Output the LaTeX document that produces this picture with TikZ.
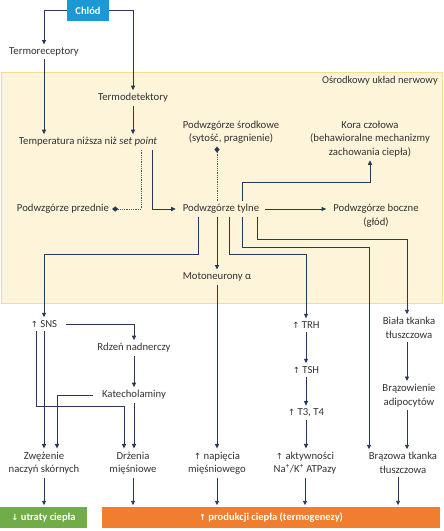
\documentclass[tikz,border=0pt]{standalone}
\usepackage{fontspec}
\setmainfont{Carlito}
\newfontfamily\symf{DejaVu Sans}
\usetikzlibrary{arrows.meta,calc}
\definecolor{lineC}{RGB}{38,58,88}
\definecolor{txtC}{RGB}{50,50,50}
\definecolor{chlodC}{RGB}{28,152,212}
\definecolor{cnsFill}{RGB}{253,244,218}
\definecolor{cnsDraw}{RGB}{244,222,140}
\definecolor{greenC}{RGB}{112,173,71}
\definecolor{orangeC}{RGB}{241,125,46}
\definecolor{dotC}{RGB}{90,90,90}
\newcommand\upar{{\symf\fontsize{8.5}{10}\selectfont\char"2191}}
\newcommand\downar{{\symf\fontsize{8.5}{10}\selectfont\char"2193}}
\begin{document}
\begin{tikzpicture}[x=1pt,y=-1pt,
  lbl/.style={text=txtC, font=\fontsize{10.7}{13.5}\selectfont, inner sep=3pt, align=center},
  arr/.style={draw=lineC, line width=0.9pt, -{Triangle[length=4.5pt,width=4pt]}},
  inh/.style={draw=dotC, line width=0.8pt, densely dotted, -{Diamond[length=6pt,width=5pt,fill=lineC,color=lineC,line width=0.1pt]}},
  chlodbox/.style={fill=chlodC, text=white, font=\fontsize{10.5}{12}\selectfont\bfseries, minimum width=42pt, minimum height=21pt, inner sep=0pt},
  effbox/.style={text=white, font=\fontsize{10.5}{12}\selectfont\bfseries, minimum height=21pt, inner sep=0pt},
  cnslbl/.style={text=txtC, font=\fontsize{10.5}{12}\selectfont, inner sep=0pt, anchor=east}
]
\useasboundingbox (0,0) rectangle (444,531);
\draw[fill=cnsFill, draw=cnsDraw, line width=0.8pt] (1,72) rectangle (442,303);
\node[cnslbl] (cns) at (438,81) {Ośrodkowy układ nerwowy};

% nodes
\node[chlodbox] (chlod) at (88,10.5) {Chlód};
\node[lbl] (trec) at (44,52) {Termoreceptory};
\node[lbl] (tdet) at (133,98) {Termodetektory};
\node[lbl] (temp) at (88,142) {Temperatura niższa niż \textit{set point}};
\node[lbl] (psrod) at (231,132) {Podwzgórze środkowe\\(sytość, pragnienie)};
\node[lbl] (kora) at (370,139) {Kora czołowa\\(behawioralne mechanizmy\\zachowania ciepła)};
\node[lbl] (pprz) at (63,209) {Podwzgórze przednie};
\node[lbl] (ptyl) at (221,209) {Podwzgórze tylne};
\node[lbl] (pbocz) at (376,215.5) {Podwzgórze boczne\\(głód)};
\node[lbl] (moto) at (217,277) {Motoneurony α};
\node[lbl] (sns) at (44,324) {\upar\ SNS};
\node[lbl] (rdzen) at (134,348) {Rdzeń nadnerczy};
\node[lbl] (katech) at (134,395) {Katecholaminy};
\node[lbl] (zwez) at (44,463) {Zwężenie\\naczyń skórnych};
\node[lbl] (drz) at (133,463) {Drżenia\\mięśniowe};
\node[lbl] (nap) at (217,463) {\upar\ napięcia\\mięśniowego};
\node[lbl] (trh) at (306,325) {\upar\ TRH};
\node[lbl] (tsh) at (306,370) {\upar\ TSH};
\node[lbl] (t34) at (306,413) {\upar\ T3, T4};
\node[lbl] (atp) at (305,463) {\upar\ aktywności\\Na\textsuperscript{+}/K\textsuperscript{+} ATPazy};
\node[lbl] (biala) at (409,328) {Biała tkanka\\tłuszczowa};
\node[lbl] (brw) at (409,395.5) {Brązowienie\\adipocytów};
\node[lbl] (braz) at (403,463) {Brązowa tkanka\\tłuszczowa};
\node[effbox, fill=greenC, minimum width=87pt] (utr) at (43.5,517.5) {\downar\ utraty ciepła};
\node[effbox, fill=orangeC, minimum width=338pt] (prod) at (271,517.5) {\upar\ produkcji ciepła (termogenezy)};

% helper coordinates
\coordinate (d1) at (141,0);
\coordinate (s1) at (152,0);
\coordinate (k1) at (242,182);
\coordinate (a1) at (198,254);
\coordinate (t1) at (229,254);
\coordinate (b1) at (242,247);
\coordinate (b2) at (369,247);
\coordinate (w1) at (257,239);
\coordinate (w2) at (407,239);
\coordinate (z1) at (57,0);
\coordinate (q1) at (36,406);
\coordinate (q2) at (124,406);
\coordinate (r1) at (398,0);
\coordinate (m1) at (217,0);

% connectors
\draw[arr] (chlod.west) -| (trec.north);
\draw[arr] (chlod.east) -| (tdet.north);
\draw[arr] (trec.south) -- (trec.south |- temp.north);
\draw[arr] (tdet.south) -- (tdet.south |- temp.north);
\draw[inh] (temp.south -| d1) |- (pprz.east);
\draw[arr] (temp.south -| s1) |- ($(ptyl.west)+(-4,0)$);
\draw[inh] (ptyl.north -| m1) -- (psrod.south -| m1);
\draw[arr] (ptyl.north -| k1) -- (k1) -| (kora.south);
\draw[arr] ($(ptyl.east)+(3,0)$) -- ($(ptyl.east -| pbocz.west)+(-4,0)$);

\draw[arr] (ptyl.south -| a1) -- (a1) -| (sns.north);
\draw[arr] (ptyl.south -| m1) -- (moto.north);
\draw[arr] (ptyl.south -| t1) -- (t1) -| (trh.north);
\draw[arr] (ptyl.south -| b1) -- (b1) -- (b2) -- (b2 |- braz.north);
\draw[arr] (ptyl.south -| w1) -- (w1) -- (w2) -- (w2 |- biala.north);

\draw[arr] (moto.south) -- (nap.north);
\draw[arr] (trh.south) -- (tsh.north);
\draw[arr] (tsh.south) -- (t34.north);
\draw[arr] (t34.south) -- (t34.south |- atp.north);
\draw[arr] (biala.south -| w2) -- (brw.north -| w2);
\draw[arr] (brw.south -| w2) -- (braz.north -| w2);

\draw[arr] ($(sns.east)+(6,0)$) -| (rdzen.north);
\draw[arr] (rdzen.south) -- (katech.north);
\draw[arr] (katech.south) -- (katech.south |- drz.north);
\draw[arr] ($(katech.west)+(-6,0)$) -| (zwez.north -| z1);
\draw[arr] (sns.south -| zwez.north) -- (zwez.north);
\draw[arr] (sns.south -| q1) -- (q1) -- (q2) -- (q2 |- drz.north);

\draw[arr, shorten >=1.5pt] (zwez.south) -- (zwez.south |- utr.north);
\draw[arr, shorten >=1.5pt] (drz.south) -- (drz.south |- prod.north);
\draw[arr, shorten >=1.5pt] (nap.south) -- (nap.south |- prod.north);
\draw[arr, shorten >=1.5pt] (atp.south) -- (atp.south |- prod.north);
\draw[arr, shorten >=1.5pt] (braz.south -| r1) -- (prod.north -| r1);
\end{tikzpicture}
\end{document}
